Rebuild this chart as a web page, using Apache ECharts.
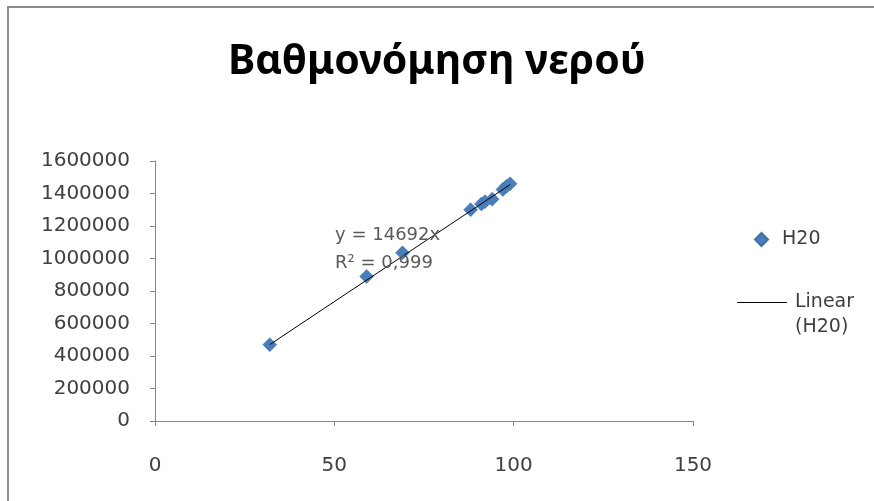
<!DOCTYPE html>
<html><head><meta charset="utf-8">
<script src="https://cdn.jsdelivr.net/npm/echarts@6/dist/echarts.min.js"></script>
<style>html,body{margin:0;padding:0;background:#fff}#c{width:874px;height:501px}</style>
</head><body><div id="c"></div>
<script>
const titleText = 'Βαθμονόμηση νερού';
const seriesName = 'H20';
const trendName = 'Linear (H20)';
const xValues = [32, 59, 69, 88, 91, 92, 94, 97, 98, 99];
const yValues = [470000, 890000, 1035000, 1300000, 1335000, 1350000, 1365000, 1425000, 1445000, 1460000];
const slope = 14692;
const r2Text = '0,999';
const xTicks = [0, 50, 100, 150];
const yTicks = [0, 200000, 400000, 600000, 800000, 1000000, 1200000, 1400000, 1600000];

const pts = xValues.map((x, i) => [x, yValues[i]]);
const xmin = Math.min(...xValues), xmax = Math.max(...xValues);
const trend = [[xmin, slope * xmin], [xmax, slope * xmax]];

const chart = echarts.init(document.getElementById('c'));
const axisFont = {fontFamily: 'DejaVu Sans', fontSize: 20, color: '#404040'};
chart.setOption({
  animation: false,
  backgroundColor: '#fff',
  title: {text: titleText, left: 'center', top: 37,
    textStyle: {fontFamily: 'Noto Sans', fontWeight: 'bold', fontSize: 41, color: '#000'}},
  grid: {left: 155, right: 181, top: 161, bottom: 80},
  xAxis: {type: 'value', min: xTicks[0], max: xTicks[xTicks.length-1], interval: 50,
    splitLine: {show: false},
    axisLine: {lineStyle: {color: '#868686'}},
    axisTick: {show: true, length: 5, lineStyle: {color: '#868686'}},
    axisLabel: Object.assign({margin: 35}, axisFont)},
  yAxis: {type: 'value', min: yTicks[0], max: yTicks[yTicks.length-1], interval: 200000,
    splitLine: {show: false},
    axisLine: {show: true, lineStyle: {color: '#868686'}},
    axisTick: {show: true, length: 5, lineStyle: {color: '#868686'}},
    axisLabel: Object.assign({margin: 25, formatter: v => String(v)}, axisFont)},
  legend: [
    {data: [{name: seriesName, icon: 'diamond'}], orient: 'vertical', left: 749, top: 225,
      itemWidth: 13, itemHeight: 13,
      textStyle: {fontFamily: 'DejaVu Sans', fontSize: 19, color: '#404040', padding: [0,0,0,9]}},
    {data: [{name: trendName, icon: 'rect', itemStyle: {color: '#000'}}], orient: 'vertical', left: 732, top: 260,
      itemWidth: 50, itemHeight: 1,
      formatter: () => ' \nLinear\n(H20)',
      textStyle: {fontFamily: 'DejaVu Sans', fontSize: 19, color: '#404040', lineHeight: 25, padding: [0,0,0,3]}}
  ],
  graphic: [{type: 'polyline', shape: {points: [[8, 501], [8, 7], [874, 7]]},
    style: {stroke: '#8c8c8c', lineWidth: 2, fill: null}}],
  series: [
    {name: seriesName, type: 'scatter', data: pts, symbol: 'diamond', symbolSize: 14,
      itemStyle: {color: '#4A7EBB', opacity: 1, borderColor: '#3F6FA8', borderWidth: 0.5}, z: 2},
    {name: trendName, type: 'line', data: trend, symbol: 'none', showSymbol: false, z: 3,
      lineStyle: {color: '#000', width: 1}, itemStyle: {color: '#000'},
      markPoint: {symbol: 'circle', symbolSize: 0,
        data: [{coord: [50.2, 1058000], value: 0}],
        label: {show: true, position: 'inside', formatter: 'y = ' + slope + 'x\nR² = ' + r2Text,
          fontFamily: 'DejaVu Sans', fontSize: 18, color: '#595959', lineHeight: 28, align: 'left'}}}
  ]
});
</script></body></html>
